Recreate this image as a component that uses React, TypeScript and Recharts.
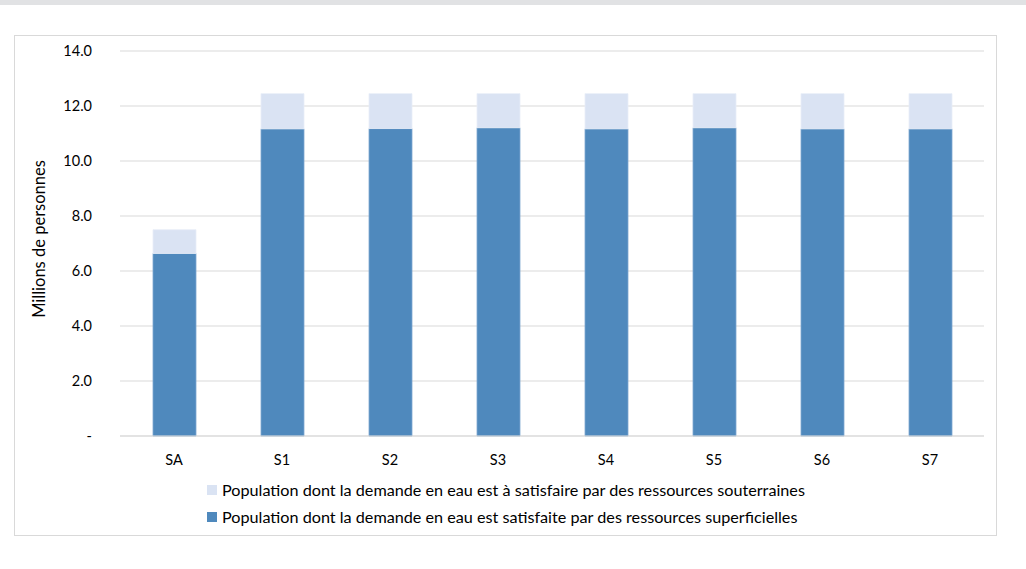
import { BarChart, Bar, XAxis, YAxis, CartesianGrid } from "recharts";

const scenarios = ["SA", "S1", "S2", "S3", "S4", "S5", "S6", "S7"];
const surfaceWater = [6.64, 11.17, 11.18, 11.21, 11.17, 11.21, 11.17, 11.17];
const groundWater = [0.86, 1.28, 1.27, 1.24, 1.28, 1.24, 1.28, 1.28];
const yTicks = [0, 2, 4, 6, 8, 10, 12, 14];

const seriesNames = {
  ground: "Population dont la demande en eau est à satisfaire par des ressources souterraines",
  surface: "Population dont la demande en eau est satisfaite par des ressources superficielles",
};

const DARK = "#4f89bd";
const LIGHT = "#dae3f3";
const FONT = "Lato, 'Open Sans', sans-serif";

const data = scenarios.map((name, i) => ({
  name,
  surface: surfaceWater[i],
  ground: groundWater[i],
}));

const formatTick = (v: number) => (v === 0 ? "-" : v.toFixed(1));

function AxisTitle() {
  return (
    <text
      x={45}
      y={239}
      transform="rotate(-90 45 239)"
      textAnchor="middle"
      fontSize={16.5}
      fontFamily={FONT}
      fill="#000"
    >
      Millions de personnes
    </text>
  );
}

function LegendBox() {
  const rows = [
    { color: LIGHT, label: seriesNames.ground },
    { color: DARK, label: seriesNames.surface },
  ];
  return (
    <div style={{ position: "absolute", left: 207, top: 476, fontFamily: FONT, fontSize: 16.2, color: "#000" }}>
      {rows.map((r) => (
        <div key={r.label} style={{ display: "flex", alignItems: "center", height: 27, whiteSpace: "nowrap" }}>
          <span style={{ width: 10, height: 10, background: r.color, marginRight: 5, display: "inline-block" }} />
          <span>{r.label}</span>
        </div>
      ))}
    </div>
  );
}

export default function App() {
  return (
    <div style={{ position: "absolute", left: 0, top: 0, width: 1026, height: 569, background: "#fff", overflow: "hidden" }}>
      <div style={{ position: "absolute", left: 0, top: 0, width: 1026, height: 5, background: "#e1e2e4" }} />
      <div
        style={{
          position: "absolute",
          left: 14,
          top: 35,
          width: 981,
          height: 499,
          border: "1px solid #d9d9d9",
        }}
      />
      <div style={{ position: "absolute", left: 0, top: 0 }}>
        <BarChart
          width={1026}
          height={569}
          data={data}
          margin={{ top: 51, right: 42, bottom: 103, left: 0 }}
          barSize={43}
        >
          <CartesianGrid vertical={false} stroke="#d9d9d9" strokeWidth={1.2} />
          <XAxis
            dataKey="name"
            height={30}
            axisLine={{ stroke: "#d9d9d9", strokeWidth: 1.2 }}
            tickLine={false}
            tick={{ fill: "#000", fontSize: 14.5, fontFamily: FONT }}
            tickMargin={13}
          />
          <YAxis
            width={120}
            domain={[0, 14]}
            ticks={yTicks}
            interval={0}
            tickFormatter={formatTick}
            axisLine={false}
            tickLine={false}
            tickSize={0}
            tickMargin={28}
            tick={{ fill: "#000", fontSize: 14.5, fontFamily: FONT }}
            label={<AxisTitle />}
          />
          <Bar dataKey="surface" stackId="pop" fill={DARK} stroke="#7ea7d1" strokeWidth={0.8} isAnimationActive={false} />
          <Bar dataKey="ground" stackId="pop" fill={LIGHT} stroke="#e8eef8" strokeWidth={0.8} isAnimationActive={false} />
        </BarChart>
      </div>
      <LegendBox />
    </div>
  );
}
